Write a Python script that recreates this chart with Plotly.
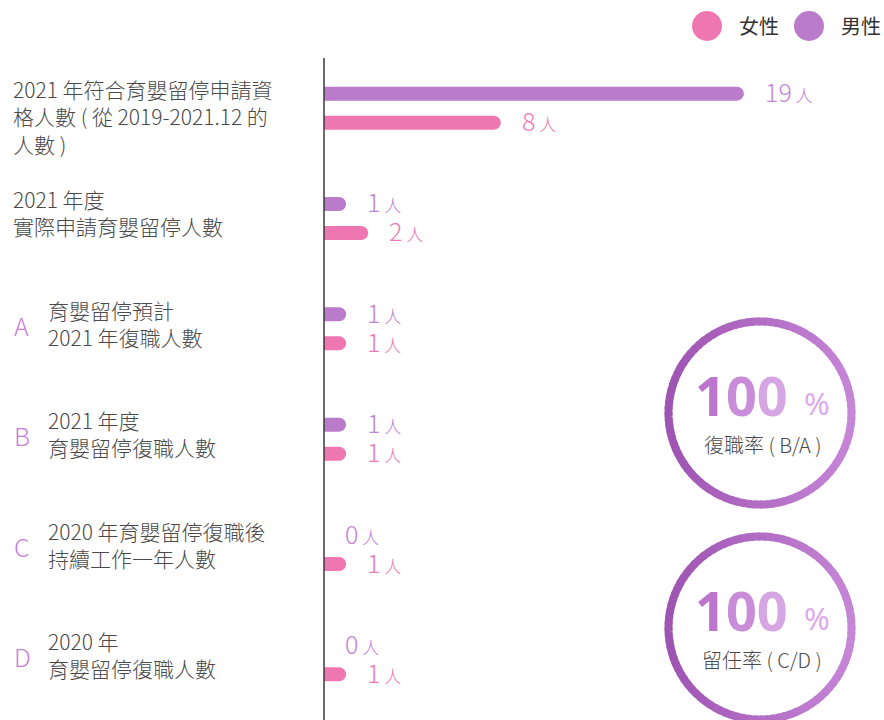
import math
import plotly.graph_objects as go

W, H = 884, 720

# ---------------- data ----------------
categories = [
    "2021 年符合育嬰留停申請資<br>格人數 ( 從 2019-2021.12 的<br>人數 )",
    "2021 年度<br>實際申請育嬰留停人數",
    "育嬰留停預計<br>2021 年復職人數",
    "2021 年度<br>育嬰留停復職人數",
    "2020 年育嬰留停復職後<br>持續工作一年人數",
    "2020 年<br>育嬰留停復職人數",
]
letters = ["", "", "A", "B", "C", "D"]
male = [19, 1, 1, 1, 0, 0]
female = [8, 2, 1, 1, 1, 1]
series_names = ["男性", "女性"]
legend_order = ["女性", "男性"]
unit = "人"
rate_values = ["100", "100"]
rate_labels = ["復職率 ( B/A )", "留任率 ( C/D )"]

# ---------------- style ----------------
PURPLE = "#BB7BCB"
PINK = "#EE77B2"
PURPLE_TXT = "#C383D6"
PINK_TXT = "#EE7AB5"
TEXT = "#4A4A4A"
FONT = "Noto Sans CJK TC"

def px(x):
    return x / W

def py(y):
    return 1 - y / H

fig = go.Figure()
colors = {"男性": PURPLE, "女性": PINK}
vals = {"男性": male, "女性": female}
for name in series_names:
    fig.add_trace(go.Bar(
        y=categories, x=vals[name], name=name, orientation="h",
        marker=dict(color=colors[name], cornerradius=7, line=dict(width=0)),
        showlegend=False, hoverinfo="skip",
    ))

annotations = []
# left labels
for cat, let in zip(categories, letters):
    annotations.append(dict(
        xref="paper", yref="y", x=px(46 if let else 11), y=cat,
        text=cat, showarrow=False, xanchor="left", yanchor="top", align="left",
        yshift=36, font=dict(family=FONT, size=21, color=TEXT, weight=300),
    ))
    if let:
        annotations.append(dict(
            xref="paper", yref="y", x=px(12), y=cat, text=let, showarrow=False,
            xanchor="left", yanchor="middle", yshift=4,
            font=dict(family=FONT, size=25, color="#C77FDB", weight=300),
        ))

# value labels
for name, shift, col in [("男性", 17, PURPLE_TXT), ("女性", -12, PINK_TXT)]:
    for cat, v in zip(categories, vals[name]):
        annotations.append(dict(
            xref="x", yref="y", x=v, y=cat,
            text=f"{v}<span style='font-size:17px'> {unit}</span>",
            showarrow=False, xanchor="left", yanchor="middle",
            xshift=19, yshift=shift,
            font=dict(family=FONT, size=25, color=col, weight=300),
        ))

shapes = []
# axis line
shapes.append(dict(type="line", xref="paper", yref="paper",
                   x0=px(324), x1=px(324), y0=py(58), y1=0,
                   line=dict(color="#3A3A3A", width=1.5)))

# legend
leg_x = {"女性": 707, "男性": 809}
for name in legend_order:
    cx = leg_x[name]
    shapes.append(dict(type="circle", xref="paper", yref="paper",
                       x0=px(cx - 15), x1=px(cx + 15), y0=py(41), y1=py(11),
                       fillcolor=colors[name], line=dict(width=0)))
    annotations.append(dict(xref="paper", yref="paper", x=px(cx + 30), y=py(26),
                            text=name, showarrow=False, xanchor="left", yanchor="middle",
                            font=dict(family=FONT, size=20, color="#333333")))

# gradient rings
def lerp(c0, c1, t):
    return "rgb(%d,%d,%d)" % tuple(round(a + (b - a) * t) for a, b in zip(c0, c1))

C_LEFT = (158, 84, 178)
C_RIGHT = (198, 134, 214)
ring_centers = [(760, 413), (760, 628)]
R = 91.5
N = 96
for (cx, cy), val, lab in zip(ring_centers, rate_values, rate_labels):
    for i in range(N):
        a0 = 2 * math.pi * i / N
        a1 = 2 * math.pi * (i + 1.3) / N
        am = (a0 + a1) / 2
        t = (math.cos(am) + 1) / 2
        pts = []
        for k in range(3):
            a = a0 + (a1 - a0) * k / 2
            pts.append((px(cx + R * math.cos(a)), py(cy - R * math.sin(a))))
        path = "M %f,%f L %f,%f L %f,%f" % (pts[0] + pts[1] + pts[2])
        shapes.append(dict(type="path", xref="paper", yref="paper", path=path,
                           line=dict(color=lerp(C_LEFT, C_RIGHT, t), width=8)))
    digit_cols = ["#BB75CC", "#C98CD9", "#D6A6E2"]
    big = "".join(f"<span style='color:{c}'>{d}</span>" for d, c in zip(val, digit_cols))
    annotations.append(dict(xref="paper", yref="paper", x=px(cx - 19), y=py(cy - 18),
                            text=big, showarrow=False, xanchor="center", yanchor="middle",
                            font=dict(family="Noto Sans", size=54, color="#C98CD9", weight=700)))
    annotations.append(dict(xref="paper", yref="paper", x=px(cx + 57), y=py(cy - 10),
                            text="%", showarrow=False, xanchor="center", yanchor="middle",
                            font=dict(family="Noto Sans", size=31, color="#DDAAEC")))
    annotations.append(dict(xref="paper", yref="paper", x=px(cx + 2), y=py(cy + 31),
                            text=lab, showarrow=False, xanchor="center", yanchor="middle",
                            font=dict(family=FONT, size=20, color="#4A4A4A", weight=300)))

fig.update_layout(
    width=W, height=H,
    margin=dict(l=0, r=0, t=0, b=0),
    paper_bgcolor="white", plot_bgcolor="white",
    barmode="group", bargap=0.474, bargroupgap=0.517,
    xaxis=dict(domain=[px(324), 1], range=[0, 560 / 22.1], visible=False, fixedrange=True),
    yaxis=dict(domain=[5 / H, 667 / H], autorange="reversed", visible=False, fixedrange=True),
    annotations=annotations, shapes=shapes,
    showlegend=False,
)

fig.write_html("out.html", config={"displayModeBar": False},
               post_script="document.body.style.margin='0px';document.body.style.overflow='hidden';")
